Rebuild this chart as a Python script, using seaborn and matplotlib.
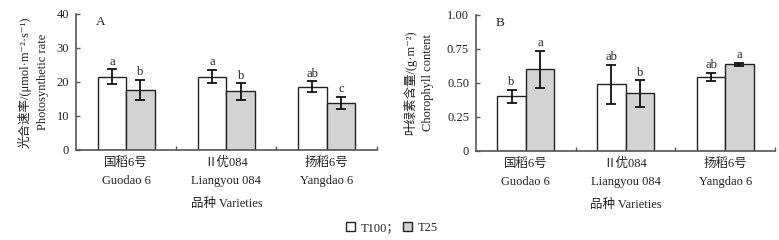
import matplotlib
matplotlib.use("Agg")
import matplotlib.pyplot as plt
from matplotlib.patches import Patch
from matplotlib.ticker import FixedLocator
import numpy as np
import pandas as pd
import seaborn as sns

# data
cultivars = ["国稻6号\nGuodao 6", "Ⅱ优084\nLiangyou 084", "扬稻6号\nYangdao 6"]
treatments = ["T100", "T25"]

rate_t100 = [21.6, 21.6, 18.6]
rate_t100_err = [2.1, 2.0, 1.6]
rate_t25 = [17.7, 17.2, 13.8]
rate_t25_err = [2.9, 2.4, 1.8]
rate_letters_t100 = ["a", "a", "ab"]
rate_letters_t25 = ["b", "b", "c"]

chl_t100 = [0.403, 0.489, 0.546]
chl_t100_err = [0.048, 0.143, 0.030]
chl_t25 = [0.601, 0.423, 0.636]
chl_t25_err = [0.136, 0.097, 0.013]
chl_letters_t100 = ["b", "ab", "ab"]
chl_letters_t25 = ["a", "b", "a"]

colors = {"T100": "white", "T25": "#d3d3d3"}
EDGE = "#222222"
SPINE = "#555555"
FS = 9


def build_frame(v100, e100, l100, v25, e25, l25):
    rows = []
    for i, c in enumerate(cultivars):
        rows.append((c, "T100", v100[i], e100[i], l100[i]))
        rows.append((c, "T25", v25[i], e25[i], l25[i]))
    return pd.DataFrame(rows, columns=["cultivar", "treatment", "value", "err", "letter"])


def draw_panel(ax, df, ylim, yticks, yticklabels, ylabel, tag, label_x):
    sns.barplot(
        data=df, x="cultivar", y="value", hue="treatment",
        order=cultivars, hue_order=treatments, palette=colors,
        edgecolor=EDGE, linewidth=1.0, width=0.57, gap=0,
        errorbar=None, legend=False, ax=ax,
    )
    # bars sorted left-to-right match rows ordered by cultivar then treatment
    bars = sorted(ax.patches, key=lambda p: p.get_x())
    xs = np.array([b.get_x() + b.get_width() / 2 for b in bars])
    ax.errorbar(xs, df["value"], yerr=df["err"], fmt="none",
                ecolor="#111111", elinewidth=1.3, capsize=3.5, capthick=1.3)
    for x, v, e, t in zip(xs, df["value"], df["err"], df["letter"]):
        ax.annotate(t, (x, v + e), xytext=(0, 1.2), textcoords="offset points",
                    ha="center", va="bottom", fontsize=FS, color="#222222")

    ax.set_xlim(-0.5, 2.5)
    ax.set_ylim(*ylim)
    ax.set_yticks(yticks)
    ax.set_yticklabels(yticklabels)
    ax.xaxis.set_minor_locator(FixedLocator([0.5, 1.5, 2.5]))
    ax.tick_params(axis="x", which="major", length=0, pad=5, labelsize=FS)
    ax.tick_params(axis="x", which="minor", direction="in", length=3,
                   width=1, color=SPINE)
    ax.tick_params(axis="y", direction="in", length=3, width=1, color=SPINE,
                   labelsize=9, pad=5)
    for lab in ax.get_xticklabels():
        lab.set_linespacing(1.7)
    for s in ["top", "right"]:
        ax.spines[s].set_visible(False)
    for s in ["left", "bottom"]:
        ax.spines[s].set_color(SPINE)
        ax.spines[s].set_linewidth(1.2)

    ax.set_xlabel("品种 Varieties", fontsize=FS, labelpad=8)
    ax.set_ylabel(ylabel, fontsize=FS, linespacing=1.55, multialignment="center")
    ax.yaxis.set_label_coords(label_x, 0.5)
    ax.text(0.065, 0.985, tag, transform=ax.transAxes, ha="left", va="top",
            fontsize=FS + 0.5, color="#222222")


sns.set_theme(style="ticks")
plt.rcParams["font.family"] = ["Liberation Serif", "Noto Sans CJK SC", "DejaVu Serif"]
plt.rcParams["text.color"] = "#222222"
plt.rcParams["axes.labelcolor"] = "#222222"
plt.rcParams["xtick.color"] = "#222222"
plt.rcParams["ytick.color"] = "#222222"

fig = plt.figure(figsize=(7.79, 2.40), dpi=100)
ax_a = fig.add_axes([0.0976, 0.375, 0.386, 0.567])
ax_b = fig.add_axes([0.611, 0.371, 0.384, 0.567])

rate_df = build_frame(rate_t100, rate_t100_err, rate_letters_t100,
                      rate_t25, rate_t25_err, rate_letters_t25)
chl_df = build_frame(chl_t100, chl_t100_err, chl_letters_t100,
                     chl_t25, chl_t25_err, chl_letters_t25)

draw_panel(ax_a, rate_df, (0, 40), [0, 10, 20, 30, 40], ["0", "10", "20", "30", "40"],
           "光合速率/(μmol·m⁻²·s⁻¹)\nPhotosynthetic rate", "A", -0.09)
draw_panel(ax_b, chl_df, (0, 1.0), [0, 0.25, 0.5, 0.75, 1.0],
           ["0", "0.25", "0.50", "0.75", "1.00"],
           "叶绿素含量/(g·m⁻²)\nChorophyll content", "B", -0.14)

handles = [Patch(facecolor=colors[t], edgecolor=EDGE, linewidth=1.0) for t in treatments]
fig.legend(handles, ["T100；", "T25"], loc="center", bbox_to_anchor=(0.503, 0.05),
           ncol=2, frameon=False, fontsize=FS, handlelength=0.75, handleheight=0.75,
           handletextpad=0.4, columnspacing=0.3, borderaxespad=0)

fig.savefig("out.png", dpi=100)
